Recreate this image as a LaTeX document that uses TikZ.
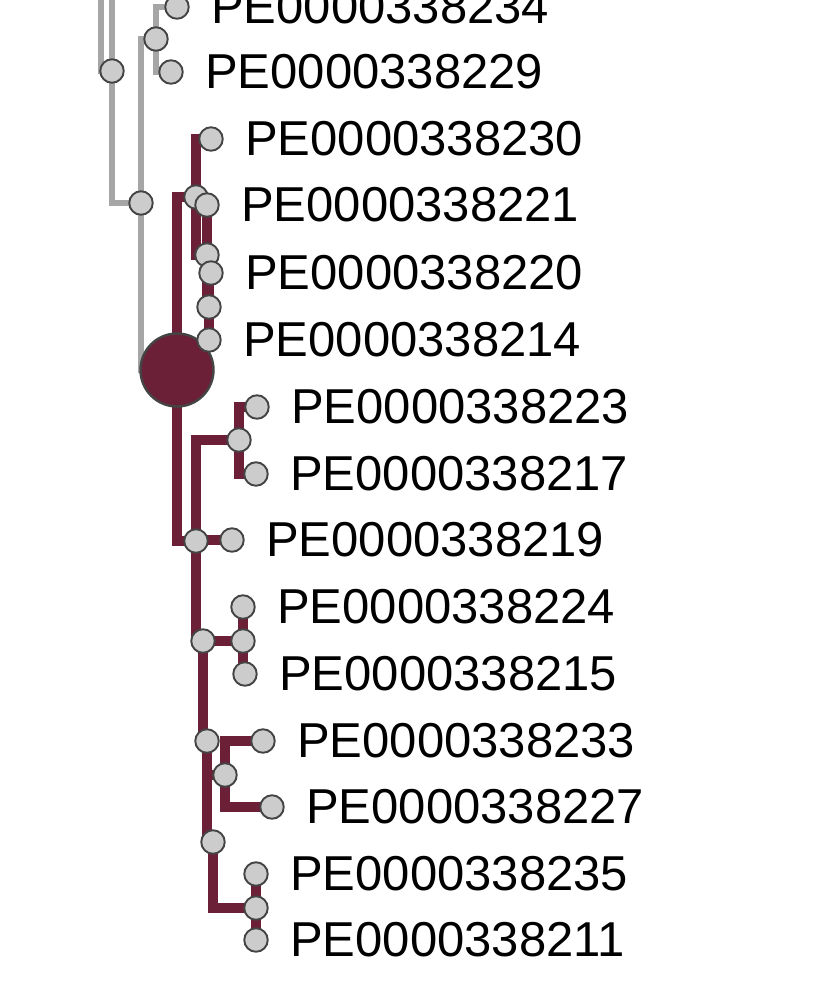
\documentclass[tikz,border=0pt]{standalone}
\usepackage{fontspec}
\setmainfont{Liberation Sans}
\usetikzlibrary{positioning, backgrounds}
\definecolor{clade}{RGB}{108,32,56}
\definecolor{branchgrey}{RGB}{166,166,166}
\definecolor{tipfill}{RGB}{204,204,204}
\definecolor{tipedge}{RGB}{68,68,68}

\begin{document}
\begin{tikzpicture}[
    x=1pt, y=-1pt,
    tip/.style={circle, draw=tipedge, fill=tipfill, line width=1.9pt, inner sep=0pt, minimum size=23.5pt},
    hub/.style={circle, draw=tipedge, fill=clade, line width=2.4pt, inner sep=0pt, minimum size=73pt},
    greyedge/.style={draw=branchgrey, line width=6.5pt},
    cladeedge/.style={draw=clade, line width=9.5pt},
    tiplbl/.style={anchor=west, inner sep=0pt, font=\fontsize{49}{58}\selectfont}
]
\useasboundingbox (0,0) rectangle (832,986);
% --- Grey part of the tree (cut at the top)
\coordinate (gtopA) at (101,-10);
\coordinate (gtopB) at (112,-10);
\node[tip] (g1) at (112,71) {};
\node[tip] (g2) at (141,203) {};
\node[tip] (g3) at (156,39) {};
\node[tip] (l234) at (177,7) {};
\node[tip] (l229) at (171,72) {};
% --- Collapsed clade root
\node[hub] (root) at (177,370) {};
% --- Upper sub-clade
\node[tip] (m1) at (196,197) {};
\node[tip] (l230) at (211,139) {};
\node[tip] (l221) at (207,205) {};
\node[tip] (m2) at (207,255) {};
\node[tip] (l220) at (211,273) {};
\node[tip] (m3) at (209,307) {};
\node[tip] (l214) at (209,340) {};
% --- Lower sub-clade
\node[tip] (m5) at (239,440) {};
\node[tip] (l223) at (257,407) {};
\node[tip] (l217) at (256,474) {};
\node[tip] (m4) at (196,541) {};
\node[tip] (l219) at (232,540) {};
\node[tip] (m6) at (203,641) {};
\node[tip] (m7) at (243,641) {};
\node[tip] (l224) at (243,607) {};
\node[tip] (l215) at (245,674) {};
\node[tip] (m8) at (207,741) {};
\node[tip] (l233) at (263,741) {};
\node[tip] (m9) at (225,775) {};
\node[tip] (l227) at (272,807) {};
\node[tip] (m10) at (213,842) {};
\node[tip] (m11) at (256,908) {};
\node[tip] (l235) at (256,874) {};
\node[tip] (l211) at (256,940) {};
% --- Tip labels
\foreach \n in {234,229,230,221,220,214,223,217,219,224,215,233,227,235,211} {
  \node[tiplbl, right=34pt of l\n.center] {PE0000338\n};
}
% --- Branches, behind the circles
\begin{pgfonlayer}{background}
  \draw[greyedge] (gtopA) |- (g1.center);
  \draw[greyedge] (g1.center) -- (gtopB);
  \foreach \p/\c in {g1/g2, g2/g3, g3/l234, g3/l229, g2/root} {
    \draw[greyedge] (\p.center) |- (\c.center);
  }
  % elbow branches
  \foreach \p/\c in {root/m1, m1/l230, m1/m2, m2/m3, m3/l220, root/m4, m4/m5,
                     m5/l223, m5/l217, m4/l219, m4/m6, m7/l215, m6/m8, m8/m9,
                     m9/l233, m9/l227, m8/m10, m10/m11} {
    \draw[cladeedge] (\p.center) |- (\c.center);
  }
  % straight branches
  \foreach \p/\c in {m2/l221, m3/l214, m6/m7, m7/l224, m11/l235, m11/l211} {
    \draw[cladeedge] (\p.center) -- (\c.center);
  }
\end{pgfonlayer}
\end{tikzpicture}
\end{document}
